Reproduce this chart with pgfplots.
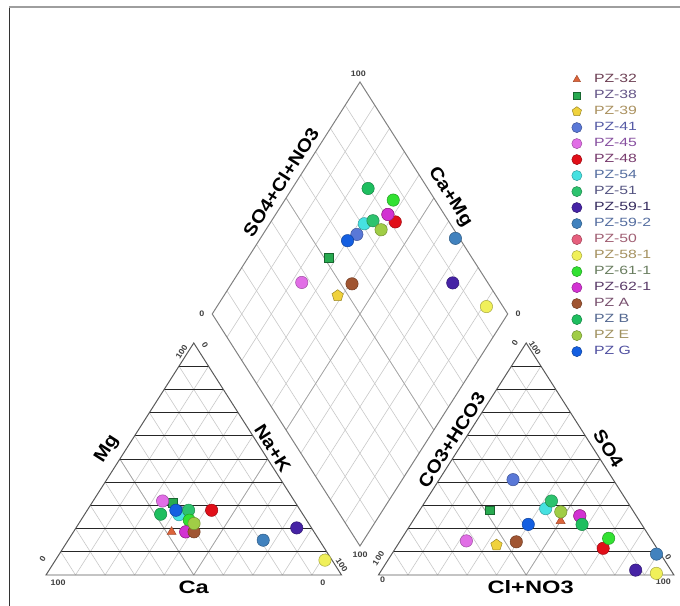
\documentclass[border=0pt]{standalone}
\usepackage{pgfplots}
\pgfplotsset{compat=1.18}
\usepackage{pgfplotstable}
\usepackage{fontspec}
\setmainfont{Liberation Sans}[FakeStretch=1.12]
\newfontfamily\widefont{Liberation Sans}[FakeStretch=1.32]

% marker colours
\definecolor{cPZ32}{RGB}{220,100,58}
\definecolor{cPZ38}{RGB}{40,170,80}
\definecolor{cPZ39}{RGB}{240,210,60}
\definecolor{cPZ41}{RGB}{90,120,215}
\definecolor{cPZ45}{RGB}{225,110,230}
\definecolor{cPZ48}{RGB}{225,15,25}
\definecolor{cPZ54}{RGB}{70,225,225}
\definecolor{cPZ51}{RGB}{45,195,110}
\definecolor{cPZ591}{RGB}{70,35,165}
\definecolor{cPZ592}{RGB}{65,130,190}
\definecolor{cPZ50}{RGB}{230,95,125}
\definecolor{cPZ581}{RGB}{240,240,90}
\definecolor{cPZ611}{RGB}{50,225,50}
\definecolor{cPZ621}{RGB}{210,50,210}
\definecolor{cPZA}{RGB}{160,85,50}
\definecolor{cPZB}{RGB}{30,190,95}
\definecolor{cPZE}{RGB}{160,205,70}
\definecolor{cPZG}{RGB}{20,95,225}
% legend text colours
\definecolor{tPZ32}{RGB}{110,65,85}
\definecolor{tPZ38}{RGB}{100,85,135}
\definecolor{tPZ39}{RGB}{170,145,95}
\definecolor{tPZ41}{RGB}{85,90,165}
\definecolor{tPZ45}{RGB}{135,80,160}
\definecolor{tPZ48}{RGB}{120,60,110}
\definecolor{tPZ54}{RGB}{85,110,160}
\definecolor{tPZ51}{RGB}{85,85,130}
\definecolor{tPZ591}{RGB}{55,45,95}
\definecolor{tPZ592}{RGB}{85,110,160}
\definecolor{tPZ50}{RGB}{160,95,115}
\definecolor{tPZ581}{RGB}{165,145,95}
\definecolor{tPZ611}{RGB}{105,125,95}
\definecolor{tPZ621}{RGB}{90,60,105}
\definecolor{tPZA}{RGB}{120,80,110}
\definecolor{tPZB}{RGB}{85,105,145}
\definecolor{tPZE}{RGB}{160,145,95}
\definecolor{tPZG}{RGB}{80,80,160}

\definecolor{gridlight}{RGB}{200,200,200}
\definecolor{gridmid}{RGB}{165,165,165}

% Composition of each sample in % meq/l:
% cations Ca, Mg (Na+K = 100-Ca-Mg); anions Cl+NO3, SO4 (CO3+HCO3 = rest)
\pgfplotstableread{
name    Ca    Mg    Cl    SO4
PZ-32   48.2  18.6  50.0  23.3
PZ-38   41.6  31.0  23.7  27.9
PZ-39   40.5  21.0  33.5  12.9
PZ-41   41.2  27.0  25.0  41.1
PZ-45   44.6  31.9  22.4  14.7
PZ-48   30.0  27.9  70.3  11.5
PZ-54   42.0  26.0  42.3  28.6
PZ-51   37.8  27.9  42.6  31.9
PZ-59-1  5.0  20.3  86.0   2.1
PZ-59-2 19.0  15.0  89.6   9.0
PZ-50   43.4  18.6  55.4  25.5
PZ-58-1  2.4   6.4  93.7   0.7
PZ-61-1 39.7  23.6  70.0  15.8
PZ-62-1 43.4  18.6  55.4  25.5
PZ-A    40.6  18.6  39.5  14.3
PZ-B    48.1  26.2  58.0  21.8
PZ-E    38.8  22.2  48.1  27.2
PZ-G    42.1  27.9  39.8  21.8
}\piperdata

% Layout (plot units): cation triangle on [0,100], anion triangle on
% [112.5,212.5], diamond between them with its lower vertex at (106.25,12.5).
% #1 row, #2 marker options, #3 legend text, #4 legend text colour
\newcommand{\piperpoint}[4]{%
  \addplot[only marks, forget plot, #2, restrict expr to domain={\coordindex}{#1:#1}]
    table[x expr={100-\thisrow{Ca}-0.5*\thisrow{Mg}}, y expr={\thisrow{Mg}}] {\piperdata};
  \addplot[only marks, forget plot, #2, restrict expr to domain={\coordindex}{#1:#1}]
    table[x expr={112.5+\thisrow{Cl}+0.5*\thisrow{SO4}}, y expr={\thisrow{SO4}}] {\piperdata};
  \addplot[only marks, #2, restrict expr to domain={\coordindex}{#1:#1}]
    table[x expr={106.25+0.5*(\thisrow{Cl}+\thisrow{SO4}-\thisrow{Ca}-\thisrow{Mg})},
          y expr={12.5+\thisrow{Cl}+\thisrow{SO4}+\thisrow{Ca}+\thisrow{Mg}}] {\piperdata};
  \addlegendentry{\textcolor{#4}{#3}}
}

\pgfplotsset{
  pzc/.style={mark=*, mark size=6.2pt, draw=#1!70!black, fill=#1, line width=0.5pt},
}
\tikzset{
  axlab/.style={font=\bfseries\fontsize{18}{18}\selectfont, inner sep=0pt},
  hlab/.style={font=\widefont\bfseries\fontsize{18}{18}\selectfont, inner sep=0pt},
  tlab/.style={font=\bfseries\fontsize{8}{8}\selectfont, text=black!75, inner sep=0pt},
}

\begin{document}
\begin{tikzpicture}
\begin{axis}[
  width=680bp, height=606bp, scale only axis,
  xmin=-15.567, xmax=214.55, ymin=-13.362, ymax=247.845,
  axis lines=none, xtick=\empty, ytick=\empty, clip=false,
  legend cell align=left,
  legend style={at={(axis cs:176.6,216.0)}, anchor=north west, draw=none, fill=none,
    font=\widefont\fontsize{12}{13}\selectfont, row sep=5bp, inner sep=0pt,
    nodes={inner ysep=0pt, inner xsep=1bp, text height=8.6bp, text depth=2.4bp}},
  legend image code/.code={%
    \draw[#1, /tikz/every mark/.append style={scale=0.82}] plot coordinates {(0.3cm,0cm)};
    \path (0cm,0cm) (0.86cm,0cm);},
]
% page frame
\draw[black!80, line width=1.4pt] (axis cs:-12.42,244.8) -- (axis cs:-12.42,-13.362);
\draw[black!38, line width=1.2pt] (axis cs:-12.42,244.8) -- (axis cs:214.55,244.8);

% triangle and diamond grids
\pgfplotsinvokeforeach{1,...,9}{
  \draw[gridlight, line width=0.6pt] (axis cs:{100-10*#1},0) -- (axis cs:{50-5*#1},{100-10*#1});
  \draw[gridlight, line width=0.6pt] (axis cs:{10*#1},0) -- (axis cs:{50+5*#1},{100-10*#1});
  \draw[gridlight, line width=0.6pt] (axis cs:{212.5-10*#1},0) -- (axis cs:{162.5-5*#1},{100-10*#1});
  \draw[gridlight, line width=0.6pt] (axis cs:{112.5+10*#1},0) -- (axis cs:{162.5+5*#1},{100-10*#1});
  \draw[gridlight, line width=0.6pt] (axis cs:{106.25+5*#1},{12.5+10*#1}) -- (axis cs:{56.25+5*#1},{112.5+10*#1});
  \draw[gridlight, line width=0.6pt] (axis cs:{106.25-5*#1},{12.5+10*#1}) -- (axis cs:{156.25-5*#1},{112.5+10*#1});
}
% mid lines
\draw[gridmid, line width=0.7pt] (axis cs:50,0) -- (axis cs:25,50) (axis cs:50,0) -- (axis cs:75,50);
\draw[gridmid, line width=0.7pt] (axis cs:162.5,0) -- (axis cs:137.5,50) (axis cs:162.5,0) -- (axis cs:187.5,50);
\draw[gridmid, line width=0.7pt] (axis cs:131.25,62.5) -- (axis cs:81.25,162.5) (axis cs:81.25,62.5) -- (axis cs:131.25,162.5);
% horizontal lines of the triangles
\pgfplotsinvokeforeach{1,...,9}{
  \draw[black!85, line width=0.9pt] (axis cs:{5*#1},{10*#1}) -- (axis cs:{100-5*#1},{10*#1});
  \draw[black!85, line width=0.9pt] (axis cs:{112.5+5*#1},{10*#1}) -- (axis cs:{212.5-5*#1},{10*#1});
}
% outlines
\draw[black!65, line width=1pt] (axis cs:0,0) -- (axis cs:100,0) -- (axis cs:50,100) -- cycle;
\draw[black!65, line width=1pt] (axis cs:112.5,0) -- (axis cs:212.5,0) -- (axis cs:162.5,100) -- cycle;
\draw[black!50, line width=1pt] (axis cs:106.25,12.5) -- (axis cs:56.25,112.5) -- (axis cs:106.25,212.5) -- (axis cs:156.25,112.5) -- cycle;

% samples
\piperpoint{0}{mark=triangle*, mark size=5.2pt, draw=cPZ32!75!black, fill=cPZ32, line width=0.5pt}{PZ-32}{tPZ32}
\piperpoint{1}{mark=square*, mark size=4.3pt, draw=cPZ38!60!black, fill=cPZ38, line width=0.6pt}{PZ-38}{tPZ38}
\piperpoint{2}{mark=pentagon*, mark size=6pt, draw=cPZ39!65!black, fill=cPZ39, line width=0.5pt}{PZ-39}{tPZ39}
\piperpoint{3}{pzc=cPZ41}{PZ-41}{tPZ41}
\piperpoint{4}{pzc=cPZ45}{PZ-45}{tPZ45}
\piperpoint{5}{pzc=cPZ48}{PZ-48}{tPZ48}
\piperpoint{6}{pzc=cPZ54}{PZ-54}{tPZ54}
\piperpoint{7}{pzc=cPZ51}{PZ-51}{tPZ51}
\piperpoint{8}{pzc=cPZ591}{PZ-59-1}{tPZ591}
\piperpoint{9}{pzc=cPZ592}{PZ-59-2}{tPZ592}
\piperpoint{10}{pzc=cPZ50}{PZ-50}{tPZ50}
\piperpoint{11}{pzc=cPZ581}{PZ-58-1}{tPZ581}
\piperpoint{12}{pzc=cPZ611}{PZ-61-1}{tPZ611}
\piperpoint{13}{pzc=cPZ621}{PZ-62-1}{tPZ621}
\piperpoint{14}{pzc=cPZA}{PZ A}{tPZA}
\piperpoint{15}{pzc=cPZB}{PZ B}{tPZB}
\piperpoint{16}{pzc=cPZE}{PZ E}{tPZE}
\piperpoint{17}{pzc=cPZG}{PZ G}{tPZG}

% axis titles
\node[axlab, rotate=57.4] at (axis cs:79.5,169.4) {SO4+Cl+NO3};
\node[axlab, rotate=-57.4] at (axis cs:136.7,162.9) {Ca+Mg};
\node[axlab, rotate=57.4] at (axis cs:20.7,54.2) {Mg};
\node[axlab, rotate=-57.4] at (axis cs:76.7,54.6) {Na+K};
\node[hlab] at (axis cs:50,-5.3) {Ca};
\node[axlab, rotate=57.4] at (axis cs:137.3,58.2) {CO3+HCO3};
\node[axlab, rotate=-57.4] at (axis cs:190.3,54.6) {SO4};
\node[hlab] at (axis cs:164,-5.1) {Cl+NO3};

% scale ends
\node[tlab] at (axis cs:4.1,-3.2) {100};
\node[tlab] at (axis cs:93.7,-3.2) {0};
\node[tlab, rotate=57.4] at (axis cs:-1.1,6.9) {0};
\node[tlab, rotate=57.4] at (axis cs:45.9,96.2) {100};
\node[tlab, rotate=-57.4] at (axis cs:53.8,99.1) {0};
\node[tlab, rotate=-57.4] at (axis cs:100.1,4.3) {100};
\node[tlab] at (axis cs:105.7,216.2) {100};
\node[tlab] at (axis cs:52.7,112.8) {0};
\node[tlab] at (axis cs:159.8,112.8) {0};
\node[tlab] at (axis cs:106.3,8.6) {100};
\node[tlab, rotate=57.4] at (axis cs:112.5,7.2) {100};
\node[tlab] at (axis cs:113.9,-2.2) {0};
\node[tlab] at (axis cs:208.9,-2.9) {100};
\node[tlab, rotate=-57.4] at (axis cs:210.6,7.9) {0};
\node[tlab, rotate=57.4] at (axis cs:158.7,99.9) {0};
\node[tlab, rotate=-57.4] at (axis cs:165.5,97.7) {100};
\end{axis}
\pgfresetboundingbox
\useasboundingbox (current axis.south west) rectangle (current axis.north east);
\end{tikzpicture}
\end{document}
